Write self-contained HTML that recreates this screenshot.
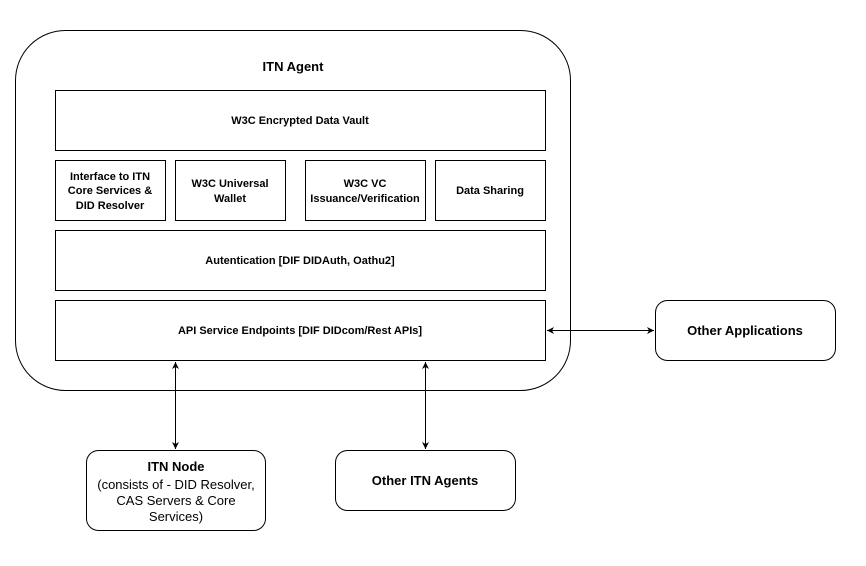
<!DOCTYPE html>
<html><head><style>body{margin:0;background:#fff}</style></head><body>
<svg width="866" height="561" xmlns="http://www.w3.org/2000/svg" font-family="Liberation Sans, Arial, sans-serif" font-weight="bold" font-size="12" text-anchor="middle">
<defs><marker id="a" markerWidth="8" markerHeight="8" refX="7" refY="4" orient="auto-start-reverse" markerUnits="userSpaceOnUse"><path d="M0,0.5 L7,4 L0,7.5 L2,4 Z" fill="#000"/></marker></defs>
<g fill="#fff" stroke="#000" stroke-width="1">
<rect x="15.5" y="30.5" width="555" height="360" rx="50"/>
<rect x="55.5" y="90.5" width="490" height="60"/>
<rect x="55.5" y="160.5" width="110" height="60"/>
<rect x="175.5" y="160.5" width="110" height="60"/>
<rect x="305.5" y="160.5" width="120" height="60"/>
<rect x="435.5" y="160.5" width="110" height="60"/>
<rect x="55.5" y="230.5" width="490" height="60"/>
<rect x="55.5" y="300.5" width="490" height="60"/>
<rect x="86.5" y="450.5" width="179" height="80" rx="12"/>
<rect x="335.5" y="450.5" width="180" height="60" rx="12"/>
<rect x="655.5" y="300.5" width="180" height="60" rx="12"/>
<line x1="175.5" y1="362" x2="175.5" y2="449" marker-start="url(#a)" marker-end="url(#a)"/>
<line x1="425.5" y1="362" x2="425.5" y2="449" marker-start="url(#a)" marker-end="url(#a)"/>
<line x1="547" y1="330.5" x2="654" y2="330.5" marker-start="url(#a)" marker-end="url(#a)"/>
</g>
<text x="293" y="71" font-size="13">ITN Agent</text>
<text x="300" y="124" font-size="11">W3C Encrypted Data Vault</text>
<text x="110" y="180" font-size="11">Interface to ITN</text>
<text x="110" y="194" font-size="11">Core Services &amp;</text>
<text x="110" y="209" font-size="11">DID Resolver</text>
<text x="230" y="187" font-size="11">W3C Universal</text>
<text x="230" y="202" font-size="11">Wallet</text>
<text x="365" y="187" font-size="11">W3C VC</text>
<text x="365" y="202" font-size="11">Issuance/Verification</text>
<text x="490" y="194" font-size="11">Data Sharing</text>
<text x="300" y="264" font-size="11">Autentication [DIF DIDAuth, Oathu2]</text>
<text x="300" y="334" font-size="11">API Service Endpoints [DIF DIDcom/Rest APIs]</text>
<text x="745" y="335" font-size="13">Other Applications</text>
<text x="425" y="485" font-size="13">Other ITN Agents</text>
<text x="176" y="471" font-size="13">ITN Node</text>
<g font-weight="normal" font-size="13">
<text x="176" y="489">(consists of - DID Resolver,</text>
<text x="176" y="505">CAS Servers &amp; Core</text>
<text x="176" y="521">Services)</text>
</g>
</svg>
</body></html>
